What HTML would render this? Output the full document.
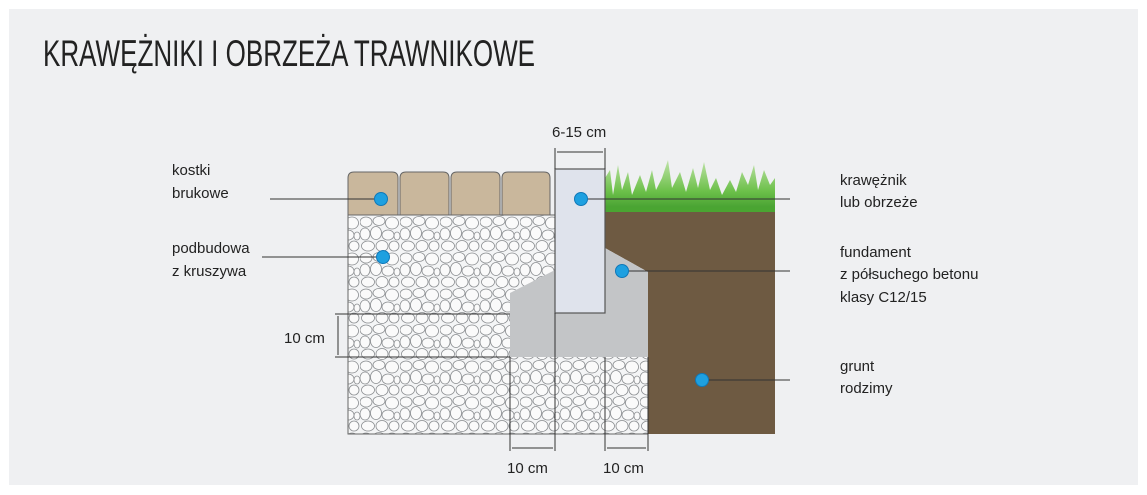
<!DOCTYPE html>
<html><head><meta charset="utf-8"><style>
html,body{margin:0;padding:0;background:#fff;}
svg{display:block;}
text{font-family:"Liberation Sans",sans-serif;fill:#222;}
</style></head><body>
<svg width="1147" height="495" viewBox="0 0 1147 495" xmlns="http://www.w3.org/2000/svg">
<defs>
<pattern id="gr" width="40" height="36" patternUnits="userSpaceOnUse">
<rect width="40" height="36" fill="#f4f5f6"/>
<g fill="#fafafa" stroke="#8a8d90" stroke-width="0.8">
<ellipse cx="6" cy="6" rx="6" ry="5"/>
<ellipse cx="19" cy="5" rx="6" ry="4.5"/>
<ellipse cx="32" cy="7" rx="6.5" ry="6"/>
<ellipse cx="5" cy="18" rx="5" ry="6"/>
<ellipse cx="16" cy="17" rx="5.5" ry="6.5"/>
<ellipse cx="28" cy="19" rx="6" ry="5"/>
<ellipse cx="37" cy="20" rx="3" ry="4"/>
<ellipse cx="8" cy="30" rx="6.5" ry="5"/>
<ellipse cx="22" cy="30" rx="6" ry="5.5"/>
<ellipse cx="34" cy="30" rx="5" ry="5"/>
</g>
</pattern>
<linearGradient id="gg" x1="0" y1="0" x2="0" y2="1">
<stop offset="0" stop-color="#bfe3a8"/><stop offset="0.6" stop-color="#6cc04a"/><stop offset="1" stop-color="#3f9a2c"/>
</linearGradient>
</defs>
<rect x="0" y="0" width="1147" height="495" fill="#fff"/>
<rect x="9" y="9" width="1129" height="476" fill="#eff0f2"/>
<text x="43" y="66" font-size="37" textLength="492" lengthAdjust="spacingAndGlyphs" fill="#222">KRAWĘŻNIKI I OBRZEŻA TRAWNIKOWE</text>

<!-- gravel -->
<rect x="348" y="215" width="300" height="219" fill="url(#gr)" stroke="#666" stroke-width="1"/>
<!-- soil -->
<path d="M605 210 L775 210 L775 434 L648 434 L648 272 L605 248 Z" fill="#6e5a42"/>
<!-- grass -->
<path d="M605 212 L605 178 L610 170 L613 195 L618 165 L622 190 L628 172 L632 195 L640 175 L646 192 L652 170 L656 190 L662 178 L668 160 L672 188 L680 172 L686 192 L693 168 L698 188 L704 162 L710 190 L716 178 L722 195 L730 180 L736 192 L742 172 L748 185 L754 165 L758 190 L764 170 L770 185 L775 178 L775 212 Z" fill="url(#gg)"/>
<rect x="605" y="207" width="170" height="5" fill="#4aa532"/>
<!-- concrete -->
<path d="M510 293 L555 270 L555 313 L605 313 L605 248 L648 272 L648 357 L510 357 Z" fill="#c3c5c7"/>
<!-- curb -->
<rect x="555" y="169" width="50" height="144" fill="#dfe3ec" stroke="#555" stroke-width="1.2"/>
<!-- pavers -->
<g fill="#c9b79c" stroke="#666" stroke-width="1">
<path d="M348 215 V178 q0-6 6-6 h38 q6 0 6 6 V215 Z"/>
<path d="M400 215 V178 q0-6 6-6 h37 q6 0 6 6 V215 Z"/>
<path d="M451 215 V178 q0-6 6-6 h37 q6 0 6 6 V215 Z"/>
<path d="M502 215 V178 q0-6 6-6 h36 q6 0 6 6 V215 Z"/>
</g>
<!-- dimension lines -->
<g stroke="#333" stroke-width="1" fill="none">
<line x1="335" y1="314" x2="510" y2="314"/>
<line x1="335" y1="357" x2="510" y2="357"/>
<line x1="338" y1="316" x2="338" y2="355"/>
<line x1="510" y1="357" x2="510" y2="451"/>
<line x1="555" y1="313" x2="555" y2="451"/>
<line x1="605" y1="357" x2="605" y2="451"/>
<line x1="648" y1="357" x2="648" y2="451"/>
<line x1="512" y1="448" x2="553" y2="448"/>
<line x1="607" y1="448" x2="646" y2="448"/>
<line x1="555" y1="148" x2="555" y2="169"/>
<line x1="605" y1="148" x2="605" y2="169"/>
<line x1="557" y1="152" x2="603" y2="152"/>
<line x1="270" y1="199" x2="381" y2="199"/>
<line x1="262" y1="257" x2="383" y2="257"/>
<line x1="581" y1="199" x2="790" y2="199"/>
<line x1="622" y1="271" x2="790" y2="271"/>
<line x1="702" y1="380" x2="790" y2="380"/>
</g>
<g fill="#1ea0e0" stroke="#1078b8" stroke-width="1">
<circle cx="381" cy="199" r="6.5"/>
<circle cx="383" cy="257" r="6.5"/>
<circle cx="581" cy="199" r="6.5"/>
<circle cx="622" cy="271" r="6.5"/>
<circle cx="702" cy="380" r="6.5"/>
</g>
<g font-size="15">
<text x="172" y="175">kostki</text>
<text x="172" y="198">brukowe</text>
<text x="172" y="253">podbudowa</text>
<text x="172" y="276">z kruszywa</text>
<text x="284" y="343">10 cm</text>
<text x="552" y="137">6-15 cm</text>
<text x="507" y="473">10 cm</text>
<text x="603" y="473">10 cm</text>
<text x="840" y="185">krawężnik</text>
<text x="840" y="207">lub obrzeże</text>
<text x="840" y="257">fundament</text>
<text x="840" y="279">z półsuchego betonu</text>
<text x="840" y="302">klasy C12/15</text>
<text x="840" y="371">grunt</text>
<text x="840" y="393">rodzimy</text>
</g>
</svg>
</body></html>
